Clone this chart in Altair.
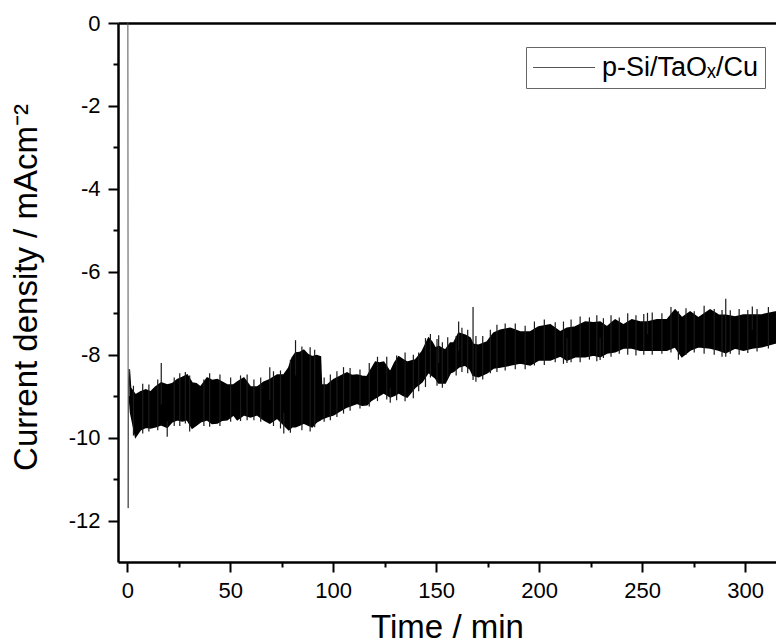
import altair as alt
import pandas as pd

FONT = "Liberation Sans"
SERIES = "p-Si/TaOₓ/Cu"

# noisy band: time (min), upper edge, lower edge (mA cm^-2)
t = [1.0, 1.6, 4.0, 6.4, 9.0, 11.3, 13.7, 16.5, 19.4, 21.8, 24.3, 26.7, 29.1, 31.5, 33.5,
     35.6, 38.8, 41.2, 43.7, 46.1, 48.5, 51.6, 53.4, 56.6, 59.8, 63.1, 66.3, 69.2, 72.8,
     76.0, 78.4, 80.0, 81.7, 83.7, 85.7, 87.8, 89.8, 92.0, 93.8, 94.3, 97.0, 100.2, 103.5,
     106.7, 109.0, 111.6, 114.0, 116.4, 118.5, 120.5, 122.5, 124.5, 127.7, 129.8, 131.8,
     133.9, 135.9, 137.9, 139.9, 143.1, 146.3, 148.0, 149.6, 151.2, 154.4, 156.9, 158.5,
     160.9, 164.1, 166.5, 167.9, 170.6, 174.7, 177.9, 181.1, 186.0, 190.8, 195.7, 199.7,
     205.4, 210.2, 213.5, 217.5, 222.4, 226.4, 229.6, 232.9, 236.9, 240.9, 245.0, 249.0,
     252.6, 257.2, 262.0, 266.0, 269.3, 273.3, 277.3, 283.0, 287.0, 290.6, 295.1, 299.2,
     303.5, 308.1, 314.6, 316.0]
hi = [-8.35, -8.80, -8.97, -8.90, -8.85, -8.90, -8.78, -8.68, -8.73, -8.70, -8.60, -8.55,
      -8.49, -8.68, -8.70, -8.78, -8.56, -8.62, -8.60, -8.66, -8.73, -8.73, -8.66, -8.56,
      -8.78, -8.78, -8.66, -8.60, -8.49, -8.49, -8.32, -8.08, -7.96, -7.95, -7.89, -8.00,
      -8.05, -8.02, -8.05, -8.73, -8.73, -8.60, -8.52, -8.44, -8.50, -8.49, -8.52, -8.53,
      -8.35, -8.18, -8.20, -8.18, -8.42, -8.20, -8.05, -8.12, -8.18, -8.15, -8.13, -7.93,
      -7.60, -7.70, -7.84, -7.80, -7.89, -7.72, -7.72, -7.48, -7.53, -7.60, -7.75, -7.77,
      -7.69, -7.48, -7.41, -7.36, -7.45, -7.45, -7.33, -7.28, -7.45, -7.36, -7.33, -7.21,
      -7.23, -7.21, -7.33, -7.16, -7.28, -7.16, -7.21, -7.21, -7.16, -7.16, -6.92, -7.11,
      -6.97, -7.11, -6.92, -7.04, -7.05, -7.09, -7.04, -7.04, -7.04, -6.97, -6.97]
lo = [-9.00, -9.40, -9.98, -9.81, -9.75, -9.77, -9.74, -9.69, -9.75, -9.62, -9.57, -9.60,
      -9.57, -9.77, -9.70, -9.62, -9.57, -9.66, -9.65, -9.58, -9.57, -9.45, -9.57, -9.45,
      -9.50, -9.45, -9.57, -9.65, -9.53, -9.69, -9.81, -9.74, -9.74, -9.70, -9.65, -9.70,
      -9.74, -9.62, -9.57, -9.55, -9.50, -9.45, -9.35, -9.26, -9.22, -9.17, -9.22, -9.21,
      -9.10, -9.04, -8.98, -8.92, -9.02, -8.98, -8.92, -8.98, -9.02, -8.90, -8.78, -8.66,
      -8.42, -8.50, -8.56, -8.68, -8.68, -8.44, -8.40, -8.30, -8.25, -8.35, -8.50, -8.53,
      -8.44, -8.32, -8.30, -8.25, -8.20, -8.25, -8.13, -8.13, -8.03, -8.13, -8.05, -8.05,
      -8.01, -8.05, -7.96, -7.93, -7.84, -7.84, -7.89, -7.89, -7.89, -7.89, -7.81, -8.05,
      -7.89, -7.81, -7.84, -7.89, -7.95, -7.84, -7.89, -7.84, -7.81, -7.72, -7.72]

# isolated spikes: time, tip, foot
spike_t = [16.5, 19.4, 69.2, 76.0, 81.7, 127.7, 151.2, 160.9, 167.9, 213.5, 229.6, 252.6,
           290.6, 303.5,
           3.0, 7.5, 10.5, 14.8, 22.8, 25.5, 28.2, 30.3, 37.2, 40.0, 45.0, 50.2, 55.0,
           58.2, 61.5, 64.8, 71.0, 74.4, 79.2, 84.8, 88.8, 91.0, 95.6, 98.6, 101.8, 105.0,
           108.2, 113.0, 117.5, 121.5, 126.0, 130.8, 134.9, 138.9, 141.5, 144.8, 147.2,
           150.4, 153.0, 155.6, 159.7, 162.5, 165.3, 169.3, 172.6, 176.3, 179.5, 183.5,
           188.4, 193.2, 197.7, 202.5, 207.8, 211.8, 215.5, 219.9, 224.4, 228.0, 231.2,
           234.9, 238.9, 243.0, 247.0, 250.8, 254.9, 259.6, 264.0, 267.6, 271.3, 275.3,
           280.1, 285.0, 288.8, 292.8, 297.1, 301.3, 305.8, 311.3]
spike_top = [-8.20, -9.60, -8.30, -9.40, -7.65, -8.80, -7.53, -7.20, -6.85, -7.60, -7.60,
             -6.99, -6.65, -6.84,
             -8.75, -8.70, -8.72, -8.60, -8.55, -8.45, -8.42, -8.50, -8.60, -8.45, -8.48,
             -8.55, -8.50, -8.48, -8.60, -8.55, -8.40, -8.38, -8.12, -7.80, -7.82, -7.88,
             -8.55, -8.48, -8.40, -8.30, -8.32, -8.36, -8.20, -8.05, -8.05, -8.02, -7.95,
             -8.00, -7.95, -7.60, -7.50, -7.62, -7.70, -7.58, -7.55, -7.35, -7.40, -7.55,
             -7.55, -7.40, -7.28, -7.25, -7.25, -7.30, -7.20, -7.15, -7.22, -7.20, -7.15,
             -7.08, -7.10, -7.05, -7.12, -7.05, -7.10, -7.00, -7.05, -7.02, -6.98, -7.00,
             -6.85, -6.95, -6.88, -6.95, -6.82, -6.90, -6.92, -6.93, -6.90, -6.92, -6.90,
             -6.85]
spike_bot = [-9.20, -9.98, -9.10, -9.90, -8.50, -9.16, -8.20, -7.90, -8.61, -8.20, -8.13,
             -7.50, -8.05, -7.40,
             -9.95, -9.90, -9.85, -9.82, -9.72, -9.72, -9.66, -9.85, -9.72, -9.74, -9.72,
             -9.62, -9.60, -9.58, -9.58, -9.62, -9.72, -9.78, -9.88, -9.82, -9.85, -9.75,
             -9.62, -9.58, -9.50, -9.42, -9.35, -9.30, -9.25, -9.12, -9.08, -9.10, -9.12,
             -9.05, -8.88, -8.78, -8.55, -8.75, -8.80, -8.55, -8.50, -8.42, -8.45, -8.65,
             -8.60, -8.45, -8.42, -8.38, -8.35, -8.35, -8.26, -8.25, -8.18, -8.22, -8.18,
             -8.18, -8.12, -8.16, -8.08, -8.05, -7.98, -8.00, -8.02, -8.00, -8.00, -7.98,
             -7.95, -8.12, -8.00, -7.95, -7.98, -8.00, -8.05, -7.98, -8.00, -7.96, -7.92,
             -7.85]

# initial transient
init_t = [0.30, 0.45, 0.60, 1.00]
init_v = [0.00, -11.70, -8.60, -8.35]

band = pd.DataFrame({"t": t, "hi": hi, "lo": lo})
spikes = pd.DataFrame({"t": spike_t, "top": spike_top, "bot": spike_bot})
init = pd.DataFrame({"t": init_t, "v": init_v, "s": [SERIES] * len(init_t)})

x_scale = alt.Scale(domain=[-4.5, 315], nice=False, zero=False)
y_scale = alt.Scale(domain=[-13, 0], nice=False, zero=False)

x_axis = alt.Axis(
    orient="bottom",
    values=list(range(0, 301, 25)),
    labelExpr="datum.value % 50 === 0 ? '' + datum.value : ''",
    tickSize={"condition": {"test": "datum.value % 50 !== 0", "value": 5}, "value": 10},
    tickWidth=2, tickColor="black", domainWidth=2.5, domainColor="black",
    labelFont=FONT, labelFontSize=22, labelColor="black", labelPadding=8,
    labelFlush=False, labelOverlap=False,
    grid=False, title="Time / min", titleFont=FONT, titleFontSize=33,
    titleFontWeight="normal", titleColor="black", titleY=75, titleBaseline="alphabetic",
)
x_top = alt.Axis(orient="top", labels=False, ticks=False, grid=False, title=None,
                 domainWidth=2.5, domainColor="black")
y_axis = alt.Axis(
    orient="left",
    values=list(range(-12, 1, 1)),
    labelExpr="datum.value % 2 === 0 ? '' + datum.value : ''",
    tickSize={"condition": {"test": "datum.value % 2 !== 0", "value": 5}, "value": 10},
    tickWidth=2, tickColor="black", domainWidth=2.5, domainColor="black",
    labelFont=FONT, labelFontSize=22, labelColor="black", labelPadding=8,
    labelFlush=False, labelOverlap=False,
    grid=False, title="Current density / mAcm⁻²", titleFont=FONT, titleFontSize=33,
    titleFontWeight="normal", titleColor="black", titleX=-82, titleY=264,
    titleAngle=270, titleBaseline="alphabetic", titleAlign="center",
)

area = alt.Chart(band).mark_area(color="black", opacity=1).encode(
    x=alt.X("t:Q", scale=x_scale, axis=x_axis),
    y=alt.Y("hi:Q", scale=y_scale, axis=y_axis),
    y2="lo:Q",
)
edge_hi = alt.Chart(band).mark_line(color="black", strokeWidth=1.5).encode(
    x=alt.X("t:Q", scale=x_scale, axis=None),
    y=alt.Y("hi:Q", scale=y_scale, axis=y_axis),
)
edge_lo = alt.Chart(band).mark_line(color="black", strokeWidth=1.5).encode(
    x=alt.X("t:Q", scale=x_scale, axis=None),
    y=alt.Y("lo:Q", scale=y_scale, axis=y_axis),
)
spk = alt.Chart(spikes).mark_rule(color="#1a1a1a", strokeWidth=1.2).encode(
    x=alt.X("t:Q", scale=x_scale, axis=x_top),
    y=alt.Y("top:Q", scale=y_scale, axis=y_axis),
    y2="bot:Q",
)
first = alt.Chart(init).mark_line(strokeWidth=1).encode(
    x=alt.X("t:Q", scale=x_scale, axis=None),
    y=alt.Y("v:Q", scale=y_scale, axis=y_axis),
    color=alt.Color(
        "s:N",
        scale=alt.Scale(domain=[SERIES], range=["#555555"]),
        legend=alt.Legend(
            orient="none", legendX=408, legendY=24, title=None,
            symbolType="M-1.3,0H4.7", symbolSize=427, symbolStrokeWidth=1,
            labelOffset=42, labelFont=FONT, labelFontSize=27, labelColor="black",
            labelLimit=500,
            padding=7, strokeColor="#666666", fillColor="white", cornerRadius=0,
        ),
    ),
)

chart = alt.layer(area, edge_hi, edge_lo, spk, first).resolve_axis(x="independent").properties(
    width=658, height=539,
    autosize=alt.AutoSizeParams(type="none"),
    padding={"left": 118, "top": 23, "right": 0, "bottom": 81},
    background="white",
).configure_view(strokeWidth=0)

chart.save("out.html", embed_options={"renderer": "svg", "actions": False})
